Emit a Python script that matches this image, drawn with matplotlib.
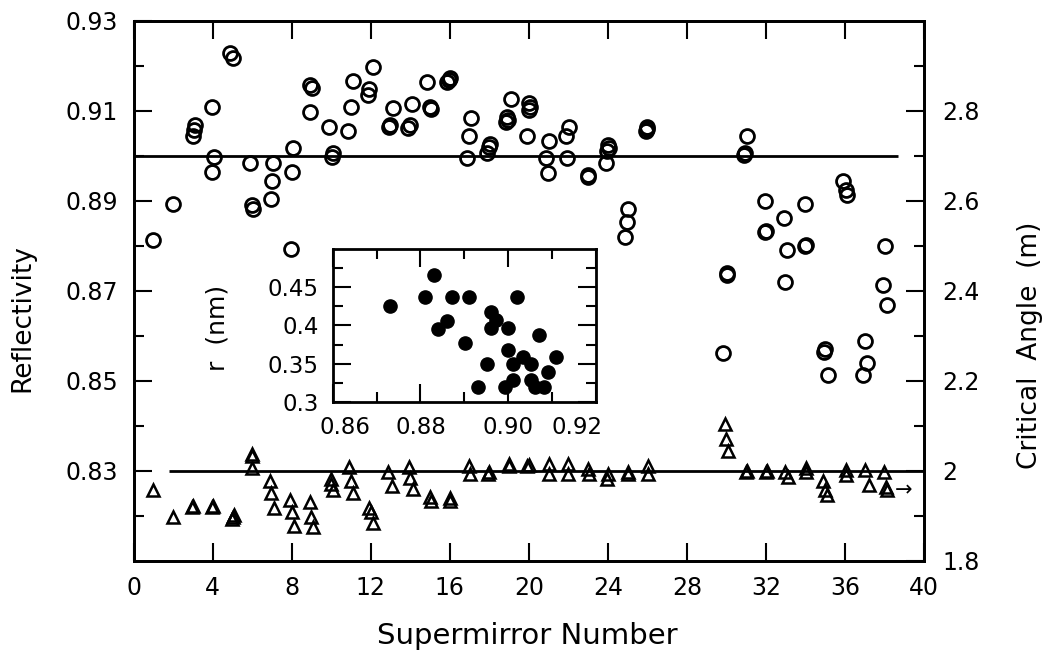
import matplotlib
matplotlib.use('Agg')
import matplotlib.pyplot as plt
import matplotlib.transforms as mtransforms
import numpy as np

# reflectivity per supermirror (open circles, left axis)
refl_x = [1.0, 2.0,
          3.0, 3.05, 3.1, 3.95, 4.05, 3.97, 4.88, 5.05,
          5.9, 6.03, 6.0, 7.05, 6.99, 6.95, 8.09, 8.04, 7.99,
          8.93, 9.02, 8.92, 9.91, 10.08, 10.03, 11.09, 10.99, 10.87,
          12.1, 11.93, 11.88, 13.12, 12.95, 12.98,
          14.08, 13.91, 13.99, 14.87, 15.04, 15.02, 15.88, 15.98, 16.02,
          17.06, 16.99, 16.89, 17.87, 18.0, 18.04,
          19.09, 18.85, 18.92, 18.97, 19.9, 20.03, 20.07, 20.03,
          21.04, 20.88, 20.96, 22.05, 21.89, 21.95, 22.97, 23.0,
          23.91, 23.95, 24.08, 24.03, 25.04, 24.99, 24.87, 25.94, 25.96, 25.98,
          30.02, 30.05, 29.85, 31.06, 30.9, 30.93,
          31.96, 31.96, 32.0, 32.89, 33.06, 32.97, 33.98, 33.98, 34.02,
          34.95, 34.98, 35.13, 35.89, 36.04, 36.09,
          37.02, 37.1, 36.9, 38.03, 37.9, 38.1]
refl_y = [0.8813, 0.8894,
          0.9045, 0.9057, 0.9069, 0.9108, 0.8998, 0.8965, 0.9228, 0.9217,
          0.8985, 0.8883, 0.8890, 0.8985, 0.8945, 0.8903, 0.9017, 0.8965, 0.8792,
          0.9158, 0.9150, 0.9097, 0.9065, 0.9007, 0.8998, 0.9167, 0.9108, 0.9056,
          0.9197, 0.9148, 0.9135, 0.9106, 0.9063, 0.9068,
          0.9115, 0.9061, 0.9069, 0.9165, 0.9104, 0.9109, 0.9165, 0.9169, 0.9172,
          0.9083, 0.9043, 0.8995, 0.9006, 0.9020, 0.9026,
          0.9126, 0.9076, 0.9086, 0.9080, 0.9043, 0.9117, 0.9108, 0.9102,
          0.9033, 0.8995, 0.8962, 0.9065, 0.9044, 0.8995, 0.8952, 0.8957,
          0.8983, 0.9010, 0.9018, 0.9024, 0.8883, 0.8853, 0.8820, 0.9055, 0.9060, 0.9063,
          0.8735, 0.8740, 0.8562, 0.9044, 0.9002, 0.9006,
          0.8900, 0.8831, 0.8834, 0.8861, 0.8791, 0.8720, 0.8893, 0.8799, 0.8801,
          0.8564, 0.8570, 0.8512, 0.8945, 0.8924, 0.8913,
          0.8589, 0.8540, 0.8512, 0.8799, 0.8713, 0.8668]

# critical angle per supermirror (open triangles, right axis)
crit_x = [1.0, 2.0, 2.95, 3.0, 3.96, 4.0, 5.0, 5.04, 5.08,
          5.98, 6.0, 6.02, 6.9, 6.98, 7.1, 7.92, 8.0, 8.12, 8.93, 9.0, 9.1,
          9.98, 10.0, 10.1, 10.92, 11.0, 11.09, 11.93, 12.0, 12.14,
          12.9, 13.1, 13.96, 14.0, 14.13, 15.0, 15.06, 16.0, 16.03,
          16.95, 17.0, 17.96, 18.0, 19.0, 19.02, 19.93, 20.0,
          21.04, 21.04, 22.0, 22.0, 23.0, 23.07, 24.0, 23.97, 25.0, 25.02,
          26.05, 26.05, 29.93, 30.0, 30.1, 31.0, 31.03, 32.0, 32.03,
          32.97, 33.1, 34.0, 34.03, 34.9, 35.0, 35.1, 36.06, 36.06,
          37.02, 37.2, 37.98, 38.08, 38.12]
crit_m = [1.958, 1.897, 1.920, 1.922, 1.920, 1.922, 1.894, 1.898, 1.901,
          2.038, 2.034, 2.007, 1.977, 1.951, 1.918, 1.936, 1.908, 1.877, 1.931, 1.897, 1.875,
          1.983, 1.972, 1.957, 2.008, 1.977, 1.951, 1.918, 1.908, 1.884,
          1.997, 1.966, 2.008, 1.985, 1.960, 1.942, 1.934, 1.940, 1.934,
          2.012, 1.994, 1.994, 1.997, 2.016, 2.012, 2.012, 2.014,
          2.016, 1.994, 2.016, 1.994, 2.005, 1.994, 1.994, 1.983, 1.994, 1.997,
          2.012, 1.994, 2.105, 2.072, 2.044, 1.997, 1.999, 1.997, 1.999,
          1.997, 1.986, 2.007, 1.997, 1.977, 1.958, 1.946, 2.003, 1.992,
          2.001, 1.968, 1.997, 1.964, 1.957]

# inset: r vs reflectivity
r_refl = [0.8731, 0.8831, 0.8810, 0.8871, 0.8911, 0.9019, 0.8841, 0.8861, 0.8960,
          0.8972, 0.8960, 0.9000, 0.8902, 0.9071, 0.9000, 0.9033, 0.8952, 0.9012,
          0.9053, 0.9110, 0.8932, 0.8993, 0.9012, 0.9053, 0.9061, 0.9082, 0.9091]
r_nm = [0.4261, 0.4665, 0.4370, 0.4370, 0.4370, 0.4370, 0.3957, 0.4065, 0.4174,
        0.4074, 0.3970, 0.3970, 0.3770, 0.3870, 0.3683, 0.3587, 0.3491, 0.3491,
        0.3491, 0.3587, 0.3196, 0.3196, 0.3291, 0.3291, 0.3196, 0.3196, 0.3391]

refl_ref = 0.90
refl_ref_end = 38.7
crit_ref = 2.0
crit_ref_start = 1.8

fig = plt.figure(figsize=(10.43, 6.5), dpi=100)
ax = fig.add_axes([0.128, 0.137, 0.758, 0.831])

ax.plot(refl_x, refl_y, 'o', mfc='none', mec='k', ms=10, mew=2.0)
ax.hlines(refl_ref, 0, refl_ref_end, color='k', lw=2)
ax.set_xlim(0, 40)
ax.set_ylim(0.81, 0.93)

ax.set_xticks(range(0, 41, 4))
ax.set_yticks(np.arange(0.83, 0.935, 0.02))
ax.set_yticklabels(['%.2f' % v for v in np.arange(0.83, 0.935, 0.02)])
ax.set_yticks(np.arange(0.82, 0.925, 0.02), minor=True)
ax.tick_params(axis='x', direction='in', length=13, width=1.5, top=True,
               labelsize=17, pad=11)
ax.tick_params(axis='y', which='major', direction='in', length=13, width=1.5,
               right=False, labelsize=17, pad=11)
ax.tick_params(axis='y', which='minor', direction='in', length=7, width=1.5,
               right=False)

ax.set_xlabel('Supermirror Number', fontsize=21)
ax.xaxis.set_label_coords(0.498, -0.139)
ax.xaxis.label.set_va('center')
ax.set_ylabel('Reflectivity', fontsize=19)
ax.yaxis.set_label_coords(-0.141, 0.45)
ax.yaxis.label.set_va('center')

ax2 = ax.twinx()
ax2.plot(crit_x, crit_m, '^', mfc='none', mec='k', ms=9, mew=1.8)
ax2.hlines(crit_ref, crit_ref_start, 40, color='k', lw=2)
ax2.set_ylim(1.8, 3.0)
right_major = [1.8, 2.0, 2.2, 2.4, 2.6, 2.8]
ax2.set_yticks(right_major)
ax2.set_yticklabels(['1.8', '2', '2.2', '2.4', '2.6', '2.8'])
ax2.set_yticks([1.9, 2.1, 2.3, 2.5, 2.7, 2.9], minor=True)
ax2.tick_params(axis='y', which='major', direction='in', length=13, width=1.5,
                labelsize=17, pad=13)
ax2.tick_params(axis='y', which='minor', direction='in', length=7, width=1.5)
ax2.set_ylabel('Critical  Angle  (m)', fontsize=19)
ax2.yaxis.set_label_coords(1.134, 0.40)
ax2.yaxis.label.set_va('center')
ax2.text(38.95, 1.957, '\u2192', fontsize=15, ha='center', va='center')

for a in (ax, ax2):
    for s in a.spines.values():
        s.set_linewidth(2)

# inset
axin = fig.add_axes([0.319, 0.382, 0.2524, 0.2345])
axin.plot(r_refl, r_nm, 'o', color='k', ms=9.5)
axin.set_xlim(0.86, 0.92)
axin.set_ylim(0.3, 0.5)
axin.set_xticks([0.86, 0.88, 0.90, 0.92])
axin.set_xticklabels(['0.86', '0.88', '0.90', '0.92'])
axin.set_xticks([0.87, 0.89, 0.91], minor=True)
axin.set_yticks([0.3, 0.35, 0.4, 0.45])
axin.set_yticklabels(['0.3', '0.35', '0.4', '0.45'])
axin.set_yticks([0.325, 0.375, 0.425, 0.475], minor=True)
axin.tick_params(which='major', direction='in', length=13, width=1.5,
                 top=True, right=True, labelsize=16.5, pad=10)
axin.tick_params(which='minor', direction='in', length=7, width=1.5,
                 top=True, right=True)
for s in axin.spines.values():
    s.set_linewidth(2)
axin.set_ylabel('r  (nm)', fontsize=18)
axin.yaxis.set_label_coords(-0.436, 0.484)
axin.yaxis.label.set_va('center')

fig.canvas.draw()
labs = axin.get_xticklabels()
shift = {0: 9 / 72, 3: -14 / 72}
for i, dx in shift.items():
    labs[i].set_transform(labs[i].get_transform() +
                          mtransforms.ScaledTranslation(dx, 0, fig.dpi_scale_trans))

fig.savefig('out.png', dpi=100)
